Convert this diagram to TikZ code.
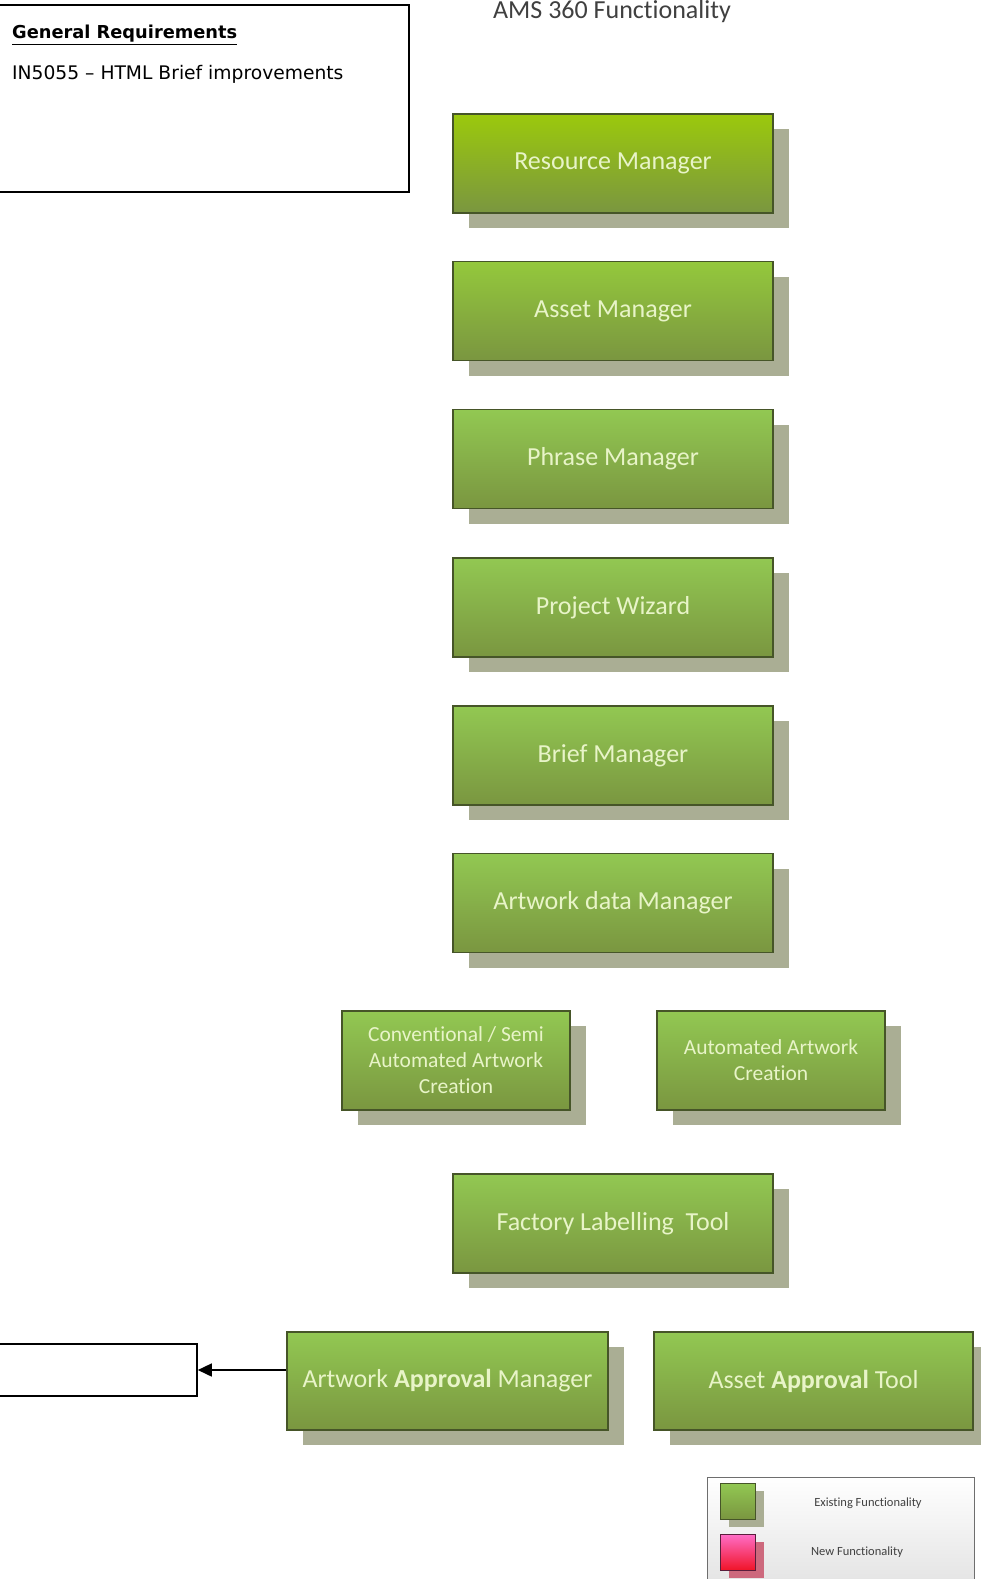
\documentclass[tikz,border=0pt]{standalone}
\usepackage{fontspec}
\setmainfont{Carlito}[Ligatures=NoCommon]
\newfontfamily\reqfont{DejaVu Sans}
\usetikzlibrary{arrows.meta,shadows}
\definecolor{gtopA}{RGB}{155,201,12}
\definecolor{gtopB}{RGB}{148,200,60}
\definecolor{gtopC}{RGB}{146,200,82}
\definecolor{gbot}{RGB}{122,150,64}
\definecolor{gline}{RGB}{70,85,40}
\definecolor{gshadow}{RGB}{170,174,148}
\definecolor{gtext}{RGB}{232,244,200}
\definecolor{titlec}{RGB}{64,64,64}
\definecolor{rtop}{RGB}{255,110,200}
\definecolor{rbot}{RGB}{240,20,40}
\definecolor{rline}{RGB}{90,30,60}
\definecolor{rshadow}{RGB}{205,105,125}
\definecolor{legline}{RGB}{110,110,110}
\begin{document}
\begin{tikzpicture}[x=1pt,y=-1pt,
  fbox/.style={draw=gline, line width=1.5pt, top color=gtopC, bottom color=gbot,
    minimum width=320pt, minimum height=99pt, inner sep=0pt, text=gtext, align=center,
    font=\fontsize{26}{30}\selectfont,
    drop shadow={shadow xshift=16pt, shadow yshift=-15pt, fill=gshadow, opacity=1}},
  sbox/.style={fbox, minimum width=228pt, font=\fontsize{21.5}{26}\selectfont},
  plainbox/.style={draw=black, line width=1.6pt, fill=white, inner sep=0pt},
  legsq/.style={line width=1pt, minimum width=35pt, minimum height=36pt, inner sep=0pt}
]
\useasboundingbox (0,0) rectangle (981,1579);
\clip (0,0) rectangle (981,1579);
\fill[white] (0,0) rectangle (981,1579);

% General requirements
\node[plainbox, minimum width=411pt, minimum height=187pt] (req) at (203.5,98.5) {};
\node[anchor=base west, inner sep=0pt, font=\reqfont\bfseries\fontsize{17.8}{20}\selectfont] (reqt) at (12,39) {\underline{General Requirements}};
\node[anchor=base west, inner sep=0pt, font=\reqfont\fontsize{18.7}{22}\selectfont] (reqi) at (12,80) {IN5055 – HTML Brief improvements};

% Title
\node[text=titlec, font=\fontsize{26}{30}\selectfont, inner sep=0pt, anchor=base] (title) at (612,19) {AMS 360 Functionality};

% Main column
\node[fbox, top color=gtopA] (rm) at (613,163.5) {Resource Manager};
\node[fbox, top color=gtopB] (am) at (613,311) {Asset Manager};
\node[fbox] (pm) at (613,459) {Phrase Manager};
\node[fbox] (pw) at (613,607.5) {Project Wizard};
\node[fbox] (bm) at (613,755.5) {Brief Manager};
\node[fbox] (adm) at (613,903) {Artwork data Manager};

\node[sbox] (conv) at (456,1060.5) {Conventional / Semi\\Automated Artwork\\Creation};
\node[sbox] (auto) at (771,1060.5) {Automated Artwork\\Creation};

\node[fbox] (flt) at (613,1223.5) {Factory Labelling\ \ Tool};

\node[fbox, minimum width=321pt, minimum height=98pt] (aam) at (447.5,1381) {Artwork \textbf{Approval} Manager};
\node[fbox, minimum width=319pt, minimum height=98pt] (aat) at (813.5,1381) {Asset \textbf{Approval} Tool};

% Empty target box and arrow
\node[plainbox, minimum width=200pt, minimum height=52pt] (ebox) at (97,1370) {};
\draw[line width=1.6pt, -{Triangle[length=14pt,width=13pt]}] (aam.west |- ebox.east) -- (ebox.east);

% Legend
\node[draw=legline, line width=0.8pt, top color=white, bottom color=black!12, minimum width=267pt, minimum height=120pt, inner sep=0pt] (leg) at (840.5,1537) {};
\fill[gshadow] (729,1491) rectangle (764,1527);
\node[legsq, draw=gline, top color=gtopC, bottom color=gbot] (lgs) at (737.5,1501) {};
\fill[rshadow] (729,1542) rectangle (764,1578);
\node[legsq, draw=rline, top color=rtop, bottom color=rbot] (lrs) at (737.5,1552) {};
\node[font=\fontsize{12.5}{14}\selectfont, text=titlec, inner sep=0pt] (lgt) at (868,1503) {Existing Functionality};
\node[font=\fontsize{12.5}{14}\selectfont, text=titlec, inner sep=0pt] (lrt) at (857,1552) {New Functionality};
\end{tikzpicture}
\end{document}
